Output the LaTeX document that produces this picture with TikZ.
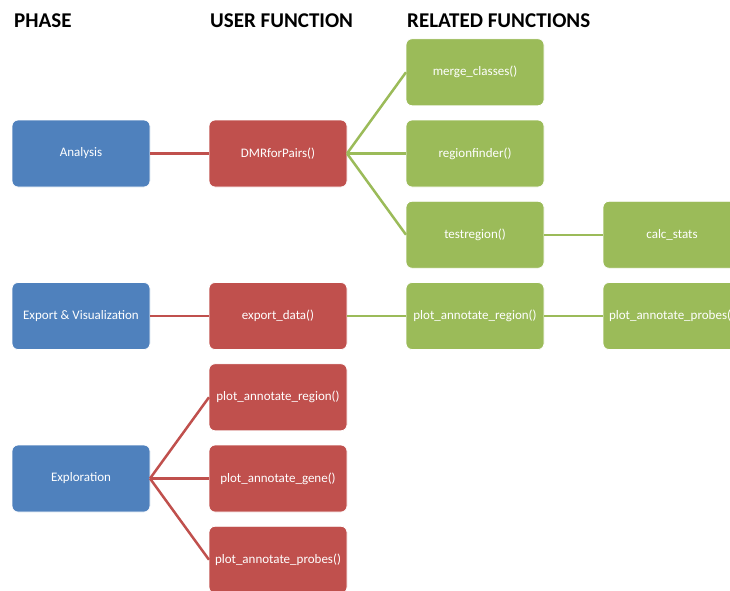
\documentclass[tikz,border=0pt]{standalone}
\usepackage{fontspec}
\setmainfont{Carlito}
\usepackage{xcolor}
\usepackage{tikz}
\usetikzlibrary{positioning}

\definecolor{phaseblue}{HTML}{4F81BD}
\definecolor{userred}{HTML}{C0504D}
\definecolor{relgreen}{HTML}{9BBB59}

\tikzset{
  fbox/.style={rectangle, rounded corners=6pt, draw=white, line width=0.8pt,
    minimum width=138pt, minimum height=67pt, inner sep=0pt, outer sep=0pt,
    text=white, font=\fontsize{13}{15}\selectfont},
  phase/.style={fbox, fill=phaseblue},
  user/.style={fbox, fill=userred},
  related/.style={fbox, fill=relgreen},
  head/.style={anchor=base west, inner sep=0pt,
    font=\fontsize{21}{25}\selectfont\bfseries},
  redlink/.style={userred, line width=2.5pt},
  greenlink/.style={relgreen, line width=2.5pt}
}

\begin{document}
\begin{tikzpicture}[x=1pt,y=-1pt,node distance=14.25pt and 59pt]

\useasboundingbox (0,0) rectangle (730,590);
\clip (0,0) rectangle (730,590);

% Draw column headers
\node[head] (hphase) at (14,27) {PHASE};
\node[head] (huser) at (210,27) {USER FUNCTION};
\node[head] (hrelated) at (407,27) {RELATED FUNCTIONS};

% Draw analysis row
\node[phase] (analysis) at (81,153.5) {Analysis};
\node[user, right=of analysis] (dmr) {DMRforPairs()};
\node[related, right=of dmr] (finder) {regionfinder()};
\node[related, above=of finder] (merge) {merge\_classes()};
\node[related, below=of finder] (testregion) {testregion()};
\node[related, right=of testregion] (calcstats) {calc\_stats};

% Draw export row
\node[related, below=of testregion] (relregion) {plot\_annotate\_region()};
\node[related, right=of relregion] (relprobes) {plot\_annotate\_probes()};
\node[user, left=of relregion] (exportdata) {export\_data()};
\node[phase, left=of exportdata] (export) {Export \& Visualization};

% Draw exploration rows
\node[user, below=of exportdata] (plotregion) {plot\_annotate\_region()};
\node[user, below=of plotregion] (plotgene) {plot\_annotate\_gene()};
\node[user, below=of plotgene] (plotprobes) {plot\_annotate\_probes()};
\node[phase, left=of plotgene] (explore) {Exploration};

% Draw links
\draw[redlink] (analysis.east) -- (dmr.west);
\draw[redlink] (export.east) -- (exportdata.west);
\draw[redlink] (explore.east) -- (plotregion.west);
\draw[redlink] (explore.east) -- (plotgene.west);
\draw[redlink] (explore.east) -- (plotprobes.west);

\draw[greenlink] (dmr.east) -- (merge.west);
\draw[greenlink] (dmr.east) -- (finder.west);
\draw[greenlink] (dmr.east) -- (testregion.west);
\draw[greenlink] (testregion.east) -- (calcstats.west);
\draw[greenlink] (exportdata.east) -- (relregion.west);
\draw[greenlink] (relregion.east) -- (relprobes.west);

\end{tikzpicture}
\end{document}
